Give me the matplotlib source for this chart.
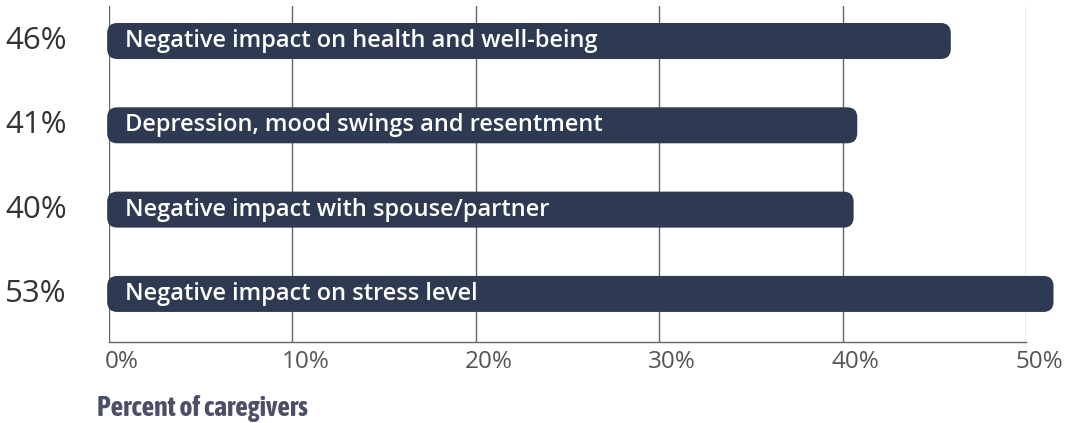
import matplotlib
matplotlib.use("Agg")
import matplotlib.pyplot as plt
from matplotlib import font_manager
from matplotlib.patches import FancyBboxPatch
from matplotlib.transforms import ScaledTranslation, blended_transform_factory

# data
categories = ['Negative impact on health and well-being',
              'Depression, mood swings and resentment',
              'Negative impact with spouse/partner',
              'Negative impact on stress level']
pct_labels = ['46%', '41%', '40%', '53%']
bar_lengths = [45.9, 40.8, 40.6, 51.5]
xticks = [0, 10, 20, 30, 40, 50]
xtick_labels = ['0%', '10%', '20%', '30%', '40%', '50%']

bar_color = '#2e3a52'

# look for a bold narrow font for the axis title
title_fp = font_manager.FontProperties(family='Roboto', weight='bold')
cands = [f for f in font_manager.fontManager.ttflist
         if ('Narrow' in f.name or 'Condensed' in f.name)
         and f.weight in (600, 700, 'bold', 'semibold') and f.style == 'normal']
cands.sort(key=lambda f: (0 if 'Liberation' in f.name else 1, f.name))
if cands:
    title_fp = font_manager.FontProperties(fname=cands[0].fname)

fig = plt.figure(figsize=(10.68, 4.23), dpi=100)
ax = fig.add_axes([109 / 1068, 1 - 342 / 423, 917 / 1068, 336 / 423])
ax.set_xlim(0, 50)
ax.set_ylim(3.57, -0.415)

# vertical grid lines
for x in xticks:
    col = '#aaaaaa' if x == 50 else '#666666'
    ax.axvline(x, color=col, lw=1.0, zorder=0)

for s in ['top', 'right', 'left']:
    ax.spines[s].set_visible(False)
ax.spines['bottom'].set_color('#666666')
ax.spines['bottom'].set_linewidth(1.0)

# rounded bars
h = 0.427
r = 0.55
aspect = (1 / 84.3) / (1 / 18.33)
for i, (cat, val) in enumerate(zip(categories, bar_lengths)):
    box = FancyBboxPatch((-0.1, i - h / 2), val + 0.1, h,
                         boxstyle=f"round,pad=0,rounding_size={r}",
                         mutation_aspect=aspect, fc=bar_color, ec='none',
                         clip_on=False, zorder=2)
    ax.add_patch(box)
    ax.text(0.85, i, cat, color='white', fontsize=17, fontweight='semibold',
            family='Open Sans', va='center', ha='left', zorder=3)

# percentage labels on the left
trans = blended_transform_factory(fig.transFigure, ax.transData)
for i, lab in enumerate(pct_labels):
    ax.text(5 / 1068, i, lab, transform=trans, fontsize=22.5, color='#333333',
            family='Open Sans', va='center', ha='left')

ax.set_yticks([])
ax.set_xticks(xticks)
ax.set_xticklabels(xtick_labels, fontsize=17.5, color='#555555', family='Open Sans')
ax.tick_params(axis='x', length=0, pad=6)
for lab in ax.get_xticklabels():
    lab.set_transform(lab.get_transform() + ScaledTranslation(0.13, 0, fig.dpi_scale_trans))

title_fp.set_size(20)
fig.text(97 / 1068, 1 - 416 / 423, 'Percent of caregivers', fontproperties=title_fp,
         color='#4a5068', va='baseline', ha='left')

fig.savefig('out.png', dpi=100)
